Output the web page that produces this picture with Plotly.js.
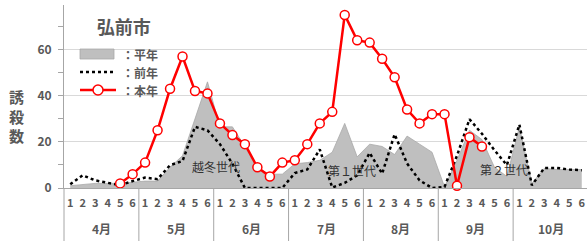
<!DOCTYPE html>
<html>
<head>
<meta charset="utf-8">
<script src="https://cdn.plot.ly/plotly-3.0.1.min.js"></script>
<style>html,body{margin:0;padding:0;background:#fff;}#chart{width:587px;height:241px;}</style>
</head>
<body>
<div id="chart"></div>
<script>
// ---- data ----
const months = ['4月','5月','6月','7月','8月','9月','10月'];
const periods = ['1','2','3','4','5','6'];
// 平年 (normal year), 42 values
const heinen = [1, 1.5, 2, 2, 2, 2.5,
                3, 3, 9, 14, 30, 46,
                26.5, 26.5, 18, 8.5, 6, 6,
                10.5, 11, 12, 15.5, 28, 13.5,
                19, 18, 14.5, 22.5, 19, 15.5,
                0.5, 12, 25, 21, 9, 5,
                26.5, 2, 8.5, 8, 8, 8];
// 前年 (previous year), 42 values
const zennen = [1.6, 5.5, 3.3, 2.2, 1.2, 3,
                4.5, 3.8, 9.9, 11.7, 26.5, 25,
                19, 10.5, 0, 0, 0, 0,
                6.5, 8, 16.7, 0.2, 2.2, 5.5,
                15.2, 6.2, 23.3, 10.6, 3.3, 0,
                0.5, 14, 29.8, 23.5, 16.4, 9.9,
                27.5, 1.2, 8.7, 8.7, 8, 7.7];
// 本年 (this year), from 4月5 to 9月4
const honnenStart = 4;
const honnen = [2, 6,
                11, 25, 43, 57, 42, 41,
                28, 23, 19, 9, 5, 11,
                12, 19, 28, 33, 75, 64,
                63, 56, 48, 34, 28, 32,
                32, 1, 22, 18];
const legendNames = ['：平年', '：前年', '：本年'];
const genLabels = ['越冬世代', '第１世代', '第２世代'];

// ---- build x ----
const nPer = periods.length;
const xIdx = [], tickText = [];
months.forEach((m, mi) => periods.forEach((p, pi) => { xIdx.push(mi * nPer + pi); tickText.push(p); }));
const hx = xIdx.slice(honnenStart, honnenStart + honnen.length);

const FONT = 'Noto Sans CJK JP, sans-serif';
const GRAY = '#595959';
const AX = '#a6a6a6';

// plot-area geometry (layout only)
const W = 587, H = 241, ML = 64, MR = 0, MT = 5, MB = 53;
const PW = W - ML - MR, PH = H - MT - MB;
const px = v => (v - ML) / PW;         // pixel x -> paper
const py = v => 1 - (v - MT) / PH;     // pixel y -> paper

const traces = [
  {x:xIdx, y:heinen, name:legendNames[0], type:'scatter', mode:'lines',
   fill:'tozeroy', fillcolor:'#bfbfbf', line:{color:AX, width:0.75}},
  {x:xIdx, y:zennen, name:legendNames[1], type:'scatter', mode:'lines',
   line:{color:'#000000', width:2.5, dash:'dot'}},
  {x:hx, y:honnen, name:legendNames[2], type:'scatter', mode:'lines+markers',
   line:{color:'#ff0000', width:2.5}, cliponaxis:false,
   marker:{symbol:'circle', size:9, color:'#ffffff', line:{color:'#ff0000', width:1.5}}}
];

// month labels & dividers
const annotations = [];
const shapes = [];
months.forEach((m, mi) => {
  annotations.push({text:m, xref:'x', yref:'paper', x:mi * nPer + (nPer - 1) / 2, y:py(228),
    xanchor:'center', yanchor:'middle', showarrow:false,
    font:{family:FONT, size:12, color:GRAY, weight:'bold'}});
});
for (let mi = 0; mi <= months.length; mi++) {
  if (mi === 0) {
    shapes.push({type:'line', xref:'paper', yref:'paper', x0:0, x1:0, y0:0, y1:py(H + 2),
      line:{color:AX, width:1}});
  } else {
    shapes.push({type:'line', xref:'x', yref:'paper', x0:mi * nPer - 0.5, x1:mi * nPer - 0.5,
      y0:0, y1:py(H + 2), line:{color:AX, width:1}});
  }
}

// custom legend
const legY = [54, 72, 90];
shapes.push({type:'rect', xref:'paper', yref:'paper', x0:px(80), x1:px(114), y0:py(legY[0] - 5), y1:py(legY[0] + 5),
  fillcolor:'#bfbfbf', line:{color:AX, width:0.75}});
shapes.push({type:'line', xref:'paper', yref:'paper', x0:px(80), x1:px(115), y0:py(legY[1]), y1:py(legY[1]),
  line:{color:'#000000', width:2.5, dash:'dot'}});
shapes.push({type:'line', xref:'paper', yref:'paper', x0:px(80), x1:px(116), y0:py(legY[2]), y1:py(legY[2]),
  line:{color:'#ff0000', width:2.5}});
shapes.push({type:'circle', xref:'paper', yref:'paper', xsizemode:'pixel', ysizemode:'pixel',
  xanchor:px(98), yanchor:py(legY[2]), x0:-5, x1:5, y0:-5, y1:5,
  fillcolor:'#ffffff', line:{color:'#ff0000', width:1.5}});
legendNames.forEach((n, i) => {
  annotations.push({text:n, xref:'paper', yref:'paper', x:px(121), y:py(legY[i]),
    xanchor:'left', yanchor:'middle', showarrow:false, borderpad:0,
    font:{family:FONT, size:12, color:GRAY, weight:'bold'}});
});

// axis title & generation labels
annotations.push({text:'誘<br>殺<br>数', xref:'paper', yref:'paper', x:px(16), y:py(116),
  xanchor:'center', yanchor:'middle', showarrow:false,
  font:{family:FONT, size:15, color:GRAY, weight:'bold'}});
const genPos = [[216, 9.4], [352, 7.7], [504, 8.1]];
genLabels.forEach((g, i) => {
  annotations.push({text:g, xref:'paper', yref:'y', x:px(genPos[i][0]), y:genPos[i][1],
    xanchor:'center', yanchor:'middle', showarrow:false,
    font:{family:FONT, size:12, color:'#333333'}});
});

const layout = {
  width:W, height:H,
  margin:{l:ML, r:MR, t:MT, b:MB},
  paper_bgcolor:'#ffffff', plot_bgcolor:'#ffffff',
  font:{family:FONT, color:GRAY},
  title:{text:'弘前市', font:{family:FONT, size:18, color:GRAY, weight:'bold'},
         x:0.211, xanchor:'center', y:0.884, yanchor:'middle'},
  showlegend:false,
  xaxis:{range:[-0.5, 41.42], showline:true, linecolor:AX, linewidth:1,
         tickmode:'array', tickvals:xIdx, ticktext:tickText, tickangle:0,
         ticks:'', showgrid:false, zeroline:false, ticklabelstandoff:5,
         tickfont:{family:FONT, size:11, color:GRAY, weight:'bold'}},
  yaxis:{range:[0, 79.3], tick0:0, dtick:20, showline:true, linecolor:AX, linewidth:1,
         ticks:'outside', ticklen:5, tickcolor:AX, ticklabelstandoff:4,
         minor:{dtick:10, ticks:'outside', ticklen:5, tickcolor:AX, showgrid:false},
         gridcolor:'#d9d9d9', gridwidth:1, zeroline:false,
         tickfont:{family:FONT, size:12, color:GRAY, weight:'bold'}},
  shapes:shapes,
  annotations:annotations
};

Plotly.newPlot('chart', traces, layout, {displayModeBar:false, staticPlot:true});
</script>
</body>
</html>
